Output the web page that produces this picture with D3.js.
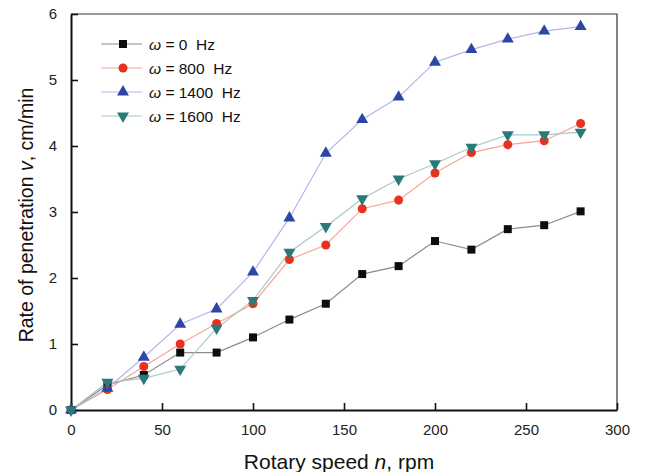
<!DOCTYPE html>
<html>
<head>
<meta charset="utf-8">
<script src="https://cdn.jsdelivr.net/npm/d3@7"></script>
<style>
  html, body { margin: 0; padding: 0; background: #fff; }
  svg { display: block; font-family: "Liberation Sans", Arial, sans-serif; }
</style>
</head>
<body>
<svg id="chart" width="646" height="472"></svg>
<script>
// Rotary speed (rpm)
const speeds = [0, 20, 40, 60, 80, 100, 120, 140, 160, 180, 200, 220, 240, 260, 280];
// Rate of penetration (cm/min) for each vibration frequency
const rop0    = [0, 0.38, 0.53, 0.87, 0.87, 1.10, 1.37, 1.61, 2.06, 2.18, 2.56, 2.43, 2.74, 2.80, 3.01];
const rop800  = [0, 0.31, 0.66, 1.00, 1.31, 1.61, 2.28, 2.50, 3.05, 3.18, 3.59, 3.90, 4.02, 4.08, 4.34];
const rop1400 = [0, 0.33, 0.80, 1.30, 1.53, 2.09, 2.91, 3.89, 4.40, 4.74, 5.27, 5.46, 5.62, 5.74, 5.81];
const rop1600 = [0, 0.42, 0.48, 0.62, 1.24, 1.66, 2.39, 2.78, 3.20, 3.50, 3.73, 3.98, 4.17, 4.17, 4.21];
const freqLabels = ["0", "800", "1400", "1600"];
const xTicks = [0, 50, 100, 150, 200, 250, 300];
const yTicks = [0, 1, 2, 3, 4, 5, 6];

const series = [
  { label: freqLabels[0], values: rop0,    symbol: d3.symbolSquare,   size: 64, fill: "#0d0d0d", line: "#8c8c8c", rot: 0 },
  { label: freqLabels[1], values: rop800,  symbol: d3.symbolCircle,   size: 64, fill: "#e8321e", line: "#f5a896", rot: 0 },
  { label: freqLabels[2], values: rop1400, symbol: d3.symbolTriangle, size: 62, fill: "#2c46a6", line: "#b3b6ea", rot: 0 },
  { label: freqLabels[3], values: rop1600, symbol: d3.symbolTriangle, size: 62, fill: "#2a7a78", line: "#a9c9c6", rot: 180 }
];

const svg = d3.select("#chart");
const m = { left: 71, right: 617, top: 14, bottom: 410 };

const x = d3.scaleLinear().domain([0, 300]).range([m.left, m.right]);
const y = d3.scaleLinear().domain([0, 6]).range([m.bottom, m.top]);

// Frame (top and right edges)
svg.append("path")
  .attr("d", `M${m.left},${m.top}H${m.right}V${m.bottom}`)
  .attr("fill", "none").attr("stroke", "#333").attr("stroke-width", 1.2);

// Bottom axis, ticks pointing inward
const xAxis = svg.append("g").attr("transform", `translate(0,${m.bottom})`)
  .call(d3.axisBottom(x).tickValues(xTicks).tickFormat(d3.format("d"))
    .tickSizeInner(-7).tickSizeOuter(0).tickPadding(14));
// Left axis, ticks pointing inward
const yAxis = svg.append("g").attr("transform", `translate(${m.left},0)`)
  .call(d3.axisLeft(y).tickValues(yTicks).tickFormat(d3.format("d"))
    .tickSizeInner(-7).tickSizeOuter(0).tickPadding(14));

[xAxis, yAxis].forEach(g => {
  g.select(".domain").attr("stroke", "#111").attr("stroke-width", 2);
  g.selectAll(".tick line").attr("stroke", "#111").attr("stroke-width", 1.6);
  g.selectAll(".tick text").attr("fill", "#222").attr("font-size", 15)
    .attr("font-family", "'Liberation Sans', Arial, sans-serif");
});

// Series lines and markers
const line = d3.line().x((d, i) => x(speeds[i])).y(d => y(d));
series.forEach(s => {
  svg.append("path").datum(s.values)
    .attr("d", line).attr("fill", "none")
    .attr("stroke", s.line).attr("stroke-width", 1.2);
});
series.forEach(s => {
  const sym = d3.symbol().type(s.symbol).size(s.size);
  svg.append("g").selectAll("path").data(s.values).join("path")
    .attr("d", sym)
    .attr("transform", (d, i) => `translate(${x(speeds[i])},${y(d)}) rotate(${s.rot})`)
    .attr("fill", s.fill);
});

// Legend
const legend = svg.append("g");
const legendY = [44, 68, 92, 116];
series.forEach((s, i) => {
  const g = legend.append("g").attr("transform", `translate(0,${legendY[i]})`);
  g.append("line").attr("x1", 101).attr("x2", 142).attr("y1", 0).attr("y2", 0)
    .attr("stroke", s.line).attr("stroke-width", 1.2);
  g.append("path").attr("d", d3.symbol().type(s.symbol).size(s.size)())
    .attr("transform", `translate(123,0) rotate(${s.rot})`).attr("fill", s.fill);
  const t = g.append("text").attr("x", 149).attr("y", 5.5).attr("font-size", 15.5).attr("fill", "#111")
    .attr("xml:space", "preserve");
  t.append("tspan").attr("font-style", "italic").text("ω");
  t.append("tspan").text(` = ${s.label}  Hz`);
});

// Axis titles
const xt = svg.append("text").attr("x", 339).attr("y", 469).attr("text-anchor", "middle")
  .attr("font-size", 21).attr("fill", "#111");
xt.append("tspan").text("Rotary speed ");
xt.append("tspan").attr("font-style", "italic").text("n");
xt.append("tspan").text(", rpm");

const yt = svg.append("text").attr("transform", "translate(33,215) rotate(-90)")
  .attr("text-anchor", "middle").attr("font-size", 19.5).attr("fill", "#111");
yt.append("tspan").text("Rate of penetration ");
yt.append("tspan").attr("font-style", "italic").text("v");
yt.append("tspan").text(", cm/min");
</script>
</body>
</html>
